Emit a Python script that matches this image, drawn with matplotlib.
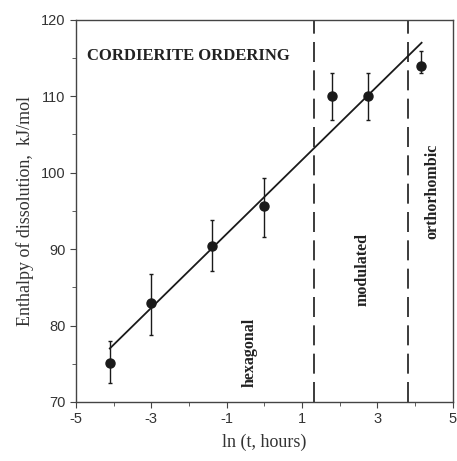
import numpy as np
import matplotlib.pyplot as plt

plt.rcParams['axes.unicode_minus'] = False

# measured points: ln(t), enthalpy, error bar limits
ln_t = [-4.1, -3.0, -1.4, 0.0, 1.8, 2.75, 4.15]
enthalpy = [75.1, 83.0, 90.4, 95.6, 110.0, 110.0, 114.0]
err_top = [78.0, 86.7, 93.8, 99.3, 113.0, 113.0, 115.9]
err_bot = [72.5, 78.8, 87.1, 91.6, 106.9, 106.9, 113.0]

# linear fit drawn through the data
fit_x = [-4.1, 4.17]
fit_y = [77.0, 117.0]

# phase boundaries
bounds = [1.32, 3.81]

fig = plt.figure(figsize=(4.57, 4.61), dpi=100)
ax = fig.add_axes([0.166, 0.128, 0.825, 0.829])

yerr = [np.array(enthalpy) - np.array(err_bot), np.array(err_top) - np.array(enthalpy)]
ax.errorbar(ln_t, enthalpy, yerr=yerr, fmt='o', color='#1a1a1a', ms=6.5,
            elinewidth=1.0, capsize=1.5, capthick=1.0)
ax.plot(fit_x, fit_y, color='#1a1a1a', lw=1.3)
for b in bounds:
    ax.axvline(b, color='#1a1a1a', lw=1.2, dashes=(12, 5))

serif = 'Liberation Serif'
ax.text(-4.7, 115.3, 'CORDIERITE ORDERING', family=serif, weight='bold',
        fontsize=12, va='center', ha='left', color='#222222')
ax.text(-0.4, 76.5, 'hexagonal', family=serif, weight='bold', fontsize=11.5,
        rotation=90, ha='center', va='center', color='#222222')
ax.text(2.6, 87.3, 'modulated', family=serif, weight='bold', fontsize=11.5,
        rotation=90, ha='center', va='center', color='#222222')
ax.text(4.45, 97.5, 'orthorhombic', family=serif, weight='bold', fontsize=11.5,
        rotation=90, ha='center', va='center', color='#222222')

ax.set_xlim(-5, 5)
ax.set_ylim(70, 120)
ax.set_xticks([-5, -3, -1, 1, 3, 5])
ax.set_xticks(np.arange(-4, 5, 2), minor=True)
ax.set_yticks([70, 80, 90, 100, 110, 120])
ax.set_yticks(np.arange(75, 120, 10), minor=True)
ax.tick_params(which='both', direction='out', color='#444444')
ax.tick_params(which='major', length=4, labelsize=10.5, labelcolor='#333333')
ax.tick_params(which='minor', length=3)
for lab in ax.get_xticklabels() + ax.get_yticklabels():
    lab.set_family('Liberation Sans')
for s in ax.spines.values():
    s.set_color('#444444')
    s.set_linewidth(1.0)

ax.set_xlabel('ln (t, hours)', family=serif, fontsize=13, color='#333333', labelpad=5)
ax.set_ylabel('Enthalpy of dissolution,  kJ/mol', family=serif, fontsize=13,
              color='#333333', labelpad=5)

fig.savefig('out.png', dpi=100)
